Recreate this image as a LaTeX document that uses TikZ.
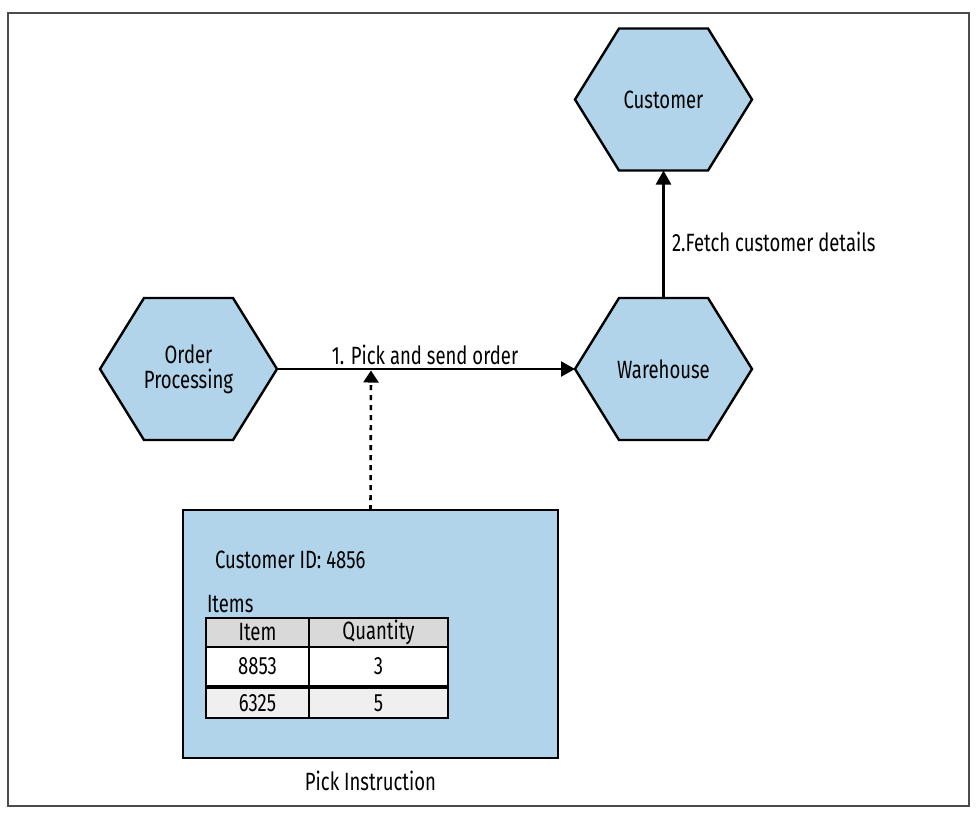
\documentclass[tikz,border=0pt]{standalone}
\usepackage{fontspec}
\setmainfont{Fira Sans}[FakeStretch=0.74]
\usetikzlibrary{arrows.meta,calc}
\definecolor{hexblue}{RGB}{177,212,234}
\definecolor{hdrgray}{RGB}{217,217,217}
\definecolor{rowgray}{RGB}{239,239,239}
\pgfdeclarelayer{bg}\pgfsetlayers{bg,main}
\newcommand\hexaround[1]{%
  \begin{pgfonlayer}{bg}
  \path[hexline] (#1.west) -- ($(#1.north west)+(44pt,0pt)$) -- ($(#1.north east)+(-44pt,0pt)$)
    -- (#1.east) -- ($(#1.south east)+(-44pt,0pt)$) -- ($(#1.south west)+(44pt,0pt)$) -- cycle;
  \end{pgfonlayer}}
\begin{document}
\begin{tikzpicture}[x=1pt,y=-1pt,
  every node/.style={font=\fontsize{25}{25}\selectfont, inner sep=0pt, outer sep=0pt},
  hexbox/.style={minimum width=177pt, minimum height=142pt, align=center},
  hexline/.style={draw=black, fill=hexblue, line width=2.4pt, line join=miter},
  flow/.style={line width=2.4pt, -{Triangle[length=14pt,width=15pt]}},
  dots/.style={line width=2.6pt, dash pattern=on 5pt off 5pt, -{Triangle[length=12pt,width=15pt]}},
  pickbox/.style={draw, fill=hexblue, line width=2.4pt, minimum width=375pt, minimum height=248pt},
  cell/.style={draw, line width=2.4pt},
]
\useasboundingbox (0,0) rectangle (976,820);
\draw[black!70, line width=1.5pt] (8,13) rectangle (969,806);

% hexagons
\node[hexbox] (cu) at (663.5,99.5) {Customer};
\node[hexbox] (wh) at (663.5,369) {Warehouse};
\node[hexbox] (op) at (188.5,369) {Order\\Processing};
\hexaround{cu}
\hexaround{wh}
\hexaround{op}

% connectors
\draw[flow] (op.east) -- (wh.west);
\node (l1) at (425,355) {1. Pick and send order};
\draw[flow] (wh.north) -- (cu.south);
\node[anchor=west] (l2) at (672,242) {2.Fetch customer details};

% pick instruction box
\node[pickbox] (pick) at (370.5,634) {};
\coordinate (tip) at (371,370.5);
\draw[dots] (pick.north) -- (tip);
\node[anchor=west] (cid) at (215,560) {Customer ID: 4856};
\node[anchor=west] (items) at (207,604) {Items};

% table
\node[cell, fill=hdrgray, minimum width=103pt, minimum height=29pt] (h1) at (257.5,632.5) {Item};
\node[cell, fill=hdrgray, minimum width=139pt, minimum height=29pt] (h2) at (378.5,632.5) {Quantity};
\node[cell, fill=white, minimum width=103pt, minimum height=39pt] (r11) at (257.5,666.5) {8853};
\node[cell, fill=white, minimum width=139pt, minimum height=39pt] (r12) at (378.5,666.5) {3};
\node[cell, fill=rowgray, minimum width=103pt, minimum height=30pt] (r21) at (257.5,703) {6325};
\node[cell, fill=rowgray, minimum width=139pt, minimum height=30pt] (r22) at (378.5,703) {5};

\node (cap) at (370.5,781) {Pick Instruction};
\end{tikzpicture}
\end{document}
